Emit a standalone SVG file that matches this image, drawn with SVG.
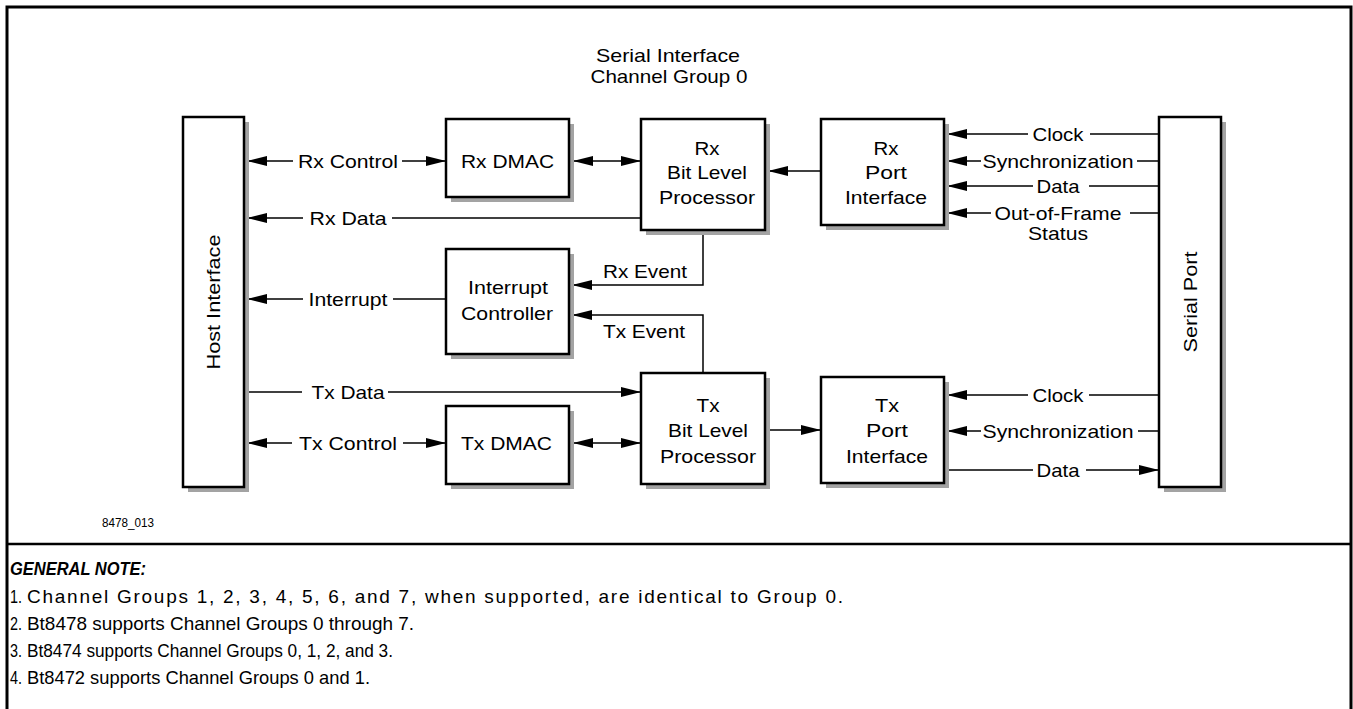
<svg xmlns="http://www.w3.org/2000/svg" width="1353" height="709" viewBox="0 0 1353 709">
<defs>
<style>
text{font-family:"Liberation Sans",Arial,sans-serif;font-size:19px;fill:#000}
.box{fill:#fff;stroke:#000;stroke-width:2.5}
.sh{fill:#a3a3a3}
.ln{fill:none;stroke:#000;stroke-width:1.5}
.c{text-anchor:middle}
.note{font-family:"Liberation Sans Narrow","Liberation Sans",Arial,sans-serif;font-size:19px}
.nh{font-weight:bold;font-style:italic;font-size:18px}
.small{font-size:13px}
</style>
<marker id="ah" markerUnits="userSpaceOnUse" markerWidth="20" markerHeight="10" refX="20" refY="5" orient="auto-start-reverse" viewBox="0 0 20 10">
<path d="M0,0 L20,5 L0,10 z" fill="#000"/>
</marker>
</defs>
<rect width="1353" height="709" fill="#fff"/>
<path d="M7,712 V7 H1351 V712" fill="none" stroke="#000" stroke-width="3"/>
<line x1="7" y1="544" x2="1351" y2="544" stroke="#000" stroke-width="2.5"/>

<g id="title">
<text class="c" x="668" y="62" textLength="144" lengthAdjust="spacingAndGlyphs">Serial Interface</text>
<text class="c" x="669" y="83" textLength="157" lengthAdjust="spacingAndGlyphs">Channel Group 0</text>
</g>

<g id="connectors">
<line class="ln" x1="247" y1="161" x2="293" y2="161" marker-start="url(#ah)"/>
<line class="ln" x1="402" y1="161" x2="446" y2="161" marker-end="url(#ah)"/>
<text class="c" x="348" y="168" textLength="100" lengthAdjust="spacingAndGlyphs">Rx Control</text>
<line class="ln" x1="573" y1="161" x2="641" y2="161" marker-start="url(#ah)" marker-end="url(#ah)"/>
<line class="ln" x1="247" y1="218" x2="303" y2="218" marker-start="url(#ah)"/>
<line class="ln" x1="392" y1="218" x2="641" y2="218"/>
<text class="c" x="348" y="225" textLength="77" lengthAdjust="spacingAndGlyphs">Rx Data</text>
<line class="ln" x1="821" y1="171" x2="768" y2="171" marker-end="url(#ah)"/>
<line class="ln" x1="947" y1="134" x2="1028" y2="134" marker-start="url(#ah)"/>
<line class="ln" x1="1090" y1="134" x2="1159" y2="134"/>
<text class="c" x="1058" y="141" textLength="51" lengthAdjust="spacingAndGlyphs">Clock</text>
<line class="ln" x1="947" y1="161" x2="981" y2="161" marker-start="url(#ah)"/>
<line class="ln" x1="1137" y1="161" x2="1159" y2="161"/>
<text class="c" x="1058" y="168" textLength="151" lengthAdjust="spacingAndGlyphs">Synchronization</text>
<line class="ln" x1="947" y1="186" x2="1033" y2="186" marker-start="url(#ah)"/>
<line class="ln" x1="1089" y1="186" x2="1159" y2="186"/>
<text class="c" x="1058" y="193" textLength="43" lengthAdjust="spacingAndGlyphs">Data</text>
<line class="ln" x1="947" y1="213" x2="991" y2="213" marker-start="url(#ah)"/>
<line class="ln" x1="1130" y1="213" x2="1159" y2="213"/>
<text class="c" x="1058" y="220" textLength="127" lengthAdjust="spacingAndGlyphs">Out-of-Frame</text>
<text class="c" x="1058" y="240" textLength="60" lengthAdjust="spacingAndGlyphs">Status</text>
<line class="ln" x1="247" y1="299" x2="303" y2="299" marker-start="url(#ah)"/>
<line class="ln" x1="393" y1="299" x2="446" y2="299"/>
<text class="c" x="348" y="306" textLength="79" lengthAdjust="spacingAndGlyphs">Interrupt</text>
<polyline class="ln" points="703,230 703,285 572,285" marker-end="url(#ah)"/>
<text class="c" x="645" y="278" textLength="84" lengthAdjust="spacingAndGlyphs">Rx Event</text>
<polyline class="ln" points="703,373 703,315 572,315" marker-end="url(#ah)"/>
<text class="c" x="644" y="338" textLength="82" lengthAdjust="spacingAndGlyphs">Tx Event</text>
<line class="ln" x1="246" y1="392" x2="302" y2="392"/>
<line class="ln" x1="388" y1="392" x2="641" y2="392" marker-end="url(#ah)"/>
<text class="c" x="348" y="399" textLength="73" lengthAdjust="spacingAndGlyphs">Tx Data</text>
<line class="ln" x1="247" y1="443" x2="292" y2="443" marker-start="url(#ah)"/>
<line class="ln" x1="403" y1="443" x2="446" y2="443" marker-end="url(#ah)"/>
<text class="c" x="348" y="450" textLength="98" lengthAdjust="spacingAndGlyphs">Tx Control</text>
<line class="ln" x1="573" y1="443" x2="641" y2="443" marker-start="url(#ah)" marker-end="url(#ah)"/>
<line class="ln" x1="768" y1="430" x2="821" y2="430" marker-end="url(#ah)"/>
<line class="ln" x1="947" y1="395" x2="1028" y2="395" marker-start="url(#ah)"/>
<line class="ln" x1="1089" y1="395" x2="1159" y2="395"/>
<text class="c" x="1058" y="402" textLength="51" lengthAdjust="spacingAndGlyphs">Clock</text>
<line class="ln" x1="947" y1="431" x2="981" y2="431" marker-start="url(#ah)"/>
<line class="ln" x1="1138" y1="431" x2="1159" y2="431"/>
<text class="c" x="1058" y="438" textLength="151" lengthAdjust="spacingAndGlyphs">Synchronization</text>
<line class="ln" x1="947" y1="470" x2="1033" y2="470"/>
<line class="ln" x1="1086" y1="470" x2="1159" y2="470" marker-end="url(#ah)"/>
<text class="c" x="1058" y="477" textLength="43" lengthAdjust="spacingAndGlyphs">Data</text>
</g>

<g id="host-interface">
<rect class="sh" x="188" y="122" width="61" height="370"/>
<rect class="box" x="183" y="117" width="61" height="370"/>
<text class="c" transform="translate(220,302) rotate(-90)" x="0" y="0" textLength="135" lengthAdjust="spacingAndGlyphs">Host Interface</text>
</g>
<g id="rx-dmac">
<rect class="sh" x="451" y="124" width="123" height="78"/>
<rect class="box" x="446" y="119" width="123" height="78"/>
<text class="c" x="507.5" y="168" textLength="93" lengthAdjust="spacingAndGlyphs">Rx DMAC</text>
</g>
<g id="rx-blp">
<rect class="sh" x="646" y="124" width="124" height="111"/>
<rect class="box" x="641" y="119" width="124" height="111"/>
<text class="c" x="707" y="155" textLength="25" lengthAdjust="spacingAndGlyphs">Rx</text>
<text class="c" x="707" y="179" textLength="80" lengthAdjust="spacingAndGlyphs">Bit Level</text>
<text class="c" x="707" y="204" textLength="96" lengthAdjust="spacingAndGlyphs">Processor</text>
</g>
<g id="rx-port">
<rect class="sh" x="826" y="124" width="123" height="106"/>
<rect class="box" x="821" y="119" width="123" height="106"/>
<text class="c" x="886" y="155" textLength="25" lengthAdjust="spacingAndGlyphs">Rx</text>
<text class="c" x="886" y="179" textLength="42" lengthAdjust="spacingAndGlyphs">Port</text>
<text class="c" x="886" y="204" textLength="82" lengthAdjust="spacingAndGlyphs">Interface</text>
</g>
<g id="interrupt-controller">
<rect class="sh" x="451" y="254" width="123" height="105"/>
<rect class="box" x="446" y="249" width="123" height="105"/>
<text class="c" x="508" y="294" textLength="80" lengthAdjust="spacingAndGlyphs">Interrupt</text>
<text class="c" x="507" y="320" textLength="92" lengthAdjust="spacingAndGlyphs">Controller</text>
</g>
<g id="tx-dmac">
<rect class="sh" x="451" y="411" width="123" height="78"/>
<rect class="box" x="446" y="406" width="123" height="78"/>
<text class="c" x="506.5" y="450" textLength="91" lengthAdjust="spacingAndGlyphs">Tx DMAC</text>
</g>
<g id="tx-blp">
<rect class="sh" x="646" y="378" width="124" height="111"/>
<rect class="box" x="641" y="373" width="124" height="111"/>
<text class="c" x="708" y="412" textLength="23" lengthAdjust="spacingAndGlyphs">Tx</text>
<text class="c" x="708" y="437" textLength="80" lengthAdjust="spacingAndGlyphs">Bit Level</text>
<text class="c" x="708" y="463" textLength="96" lengthAdjust="spacingAndGlyphs">Processor</text>
</g>
<g id="tx-port">
<rect class="sh" x="826" y="382" width="123" height="106"/>
<rect class="box" x="821" y="377" width="123" height="106"/>
<text class="c" x="887" y="412" textLength="24" lengthAdjust="spacingAndGlyphs">Tx</text>
<text class="c" x="887" y="437" textLength="42" lengthAdjust="spacingAndGlyphs">Port</text>
<text class="c" x="887" y="463" textLength="82" lengthAdjust="spacingAndGlyphs">Interface</text>
</g>
<g id="serial-port">
<rect class="sh" x="1164" y="122" width="62" height="370"/>
<rect class="box" x="1159" y="117" width="62" height="370"/>
<text class="c" transform="translate(1197,302) rotate(-90)" x="0" y="0" textLength="101" lengthAdjust="spacingAndGlyphs">Serial Port</text>
</g>

<text class="small" x="102" y="527" textLength="52" lengthAdjust="spacingAndGlyphs">8478_013</text>

<g id="notes">
<text class="note nh" x="10" y="575" textLength="136" lengthAdjust="spacingAndGlyphs">GENERAL NOTE:</text>
<text class="note" x="10" y="603" textLength="12" lengthAdjust="spacingAndGlyphs">1.</text>
<text class="note" x="27" y="603" textLength="816" lengthAdjust="spacing">Channel Groups 1, 2, 3, 4, 5, 6, and 7, when supported, are identical to Group 0.</text>
<text class="note" x="10" y="630" textLength="12" lengthAdjust="spacingAndGlyphs">2.</text>
<text class="note" x="27" y="630" textLength="387" lengthAdjust="spacingAndGlyphs">Bt8478 supports Channel Groups 0 through 7.</text>
<text class="note" x="10" y="657" textLength="12" lengthAdjust="spacingAndGlyphs">3.</text>
<text class="note" x="27" y="657" textLength="366" lengthAdjust="spacingAndGlyphs">Bt8474 supports Channel Groups 0, 1, 2, and 3.</text>
<text class="note" x="10" y="684" textLength="12" lengthAdjust="spacingAndGlyphs">4.</text>
<text class="note" x="27" y="684" textLength="343" lengthAdjust="spacingAndGlyphs">Bt8472 supports Channel Groups 0 and 1.</text>
</g>
</svg>
